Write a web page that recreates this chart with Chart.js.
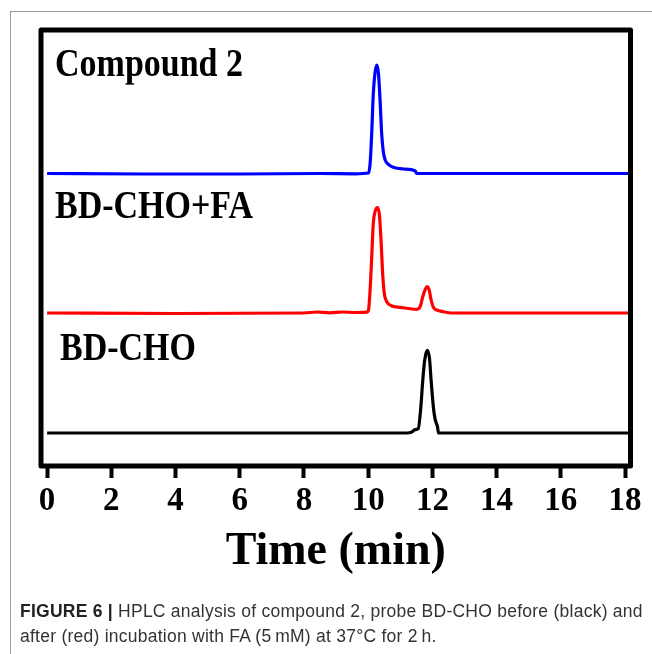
<!DOCTYPE html>
<html lang="en">
<head>
    <meta charset="UTF-8">
    <title>HPLC analysis - Figure 6</title>
    <script src="https://cdn.jsdelivr.net/npm/chart.js"></script>
    <style>
        body { margin: 0; background: #fff; }
        .page { position: relative; width: 652px; height: 654px; overflow: hidden; }
        .frame { position: absolute; left: 10px; top: 11px; width: 700px; height: 700px;
                 border-left: 1px solid #9a9a9a; border-top: 1px solid #9a9a9a; }
        #hplcChart { position: absolute; left: 0; top: 0; }
        .trace-label { position: absolute; font-family: 'Liberation Serif', 'Times New Roman', serif;
                       font-weight: bold; font-size: 34px; line-height: 34px; color: #000;
                       transform-origin: left top; transform: scaleY(1.18); white-space: nowrap; }
        .caption { position: absolute; left: 20px; top: 599px; width: 640px;
                   font-family: 'Liberation Sans', Arial, sans-serif; font-size: 17.5px;
                   letter-spacing: 0.25px; line-height: 25px; color: #333; white-space: nowrap; }
        .caption b { color: #222; }
    </style>
</head>
<body>
    <div class="page">
        <div class="frame"></div>
        <canvas id="hplcChart" width="652" height="654"></canvas>
        <div class="trace-label" style="left:55px; top:43px;">Compound 2</div>
        <div class="trace-label" style="left:55px; top:185px;">BD-CHO+FA</div>
        <div class="trace-label" style="left:60px; top:327px;">BD-CHO</div>
        <div class="caption"><b>FIGURE 6 |</b> HPLC analysis of compound 2, probe BD-CHO before (black) and<br>after (red) incubation with FA (5&#8201;mM) at 37&#176;C for 2&#8201;h.</div>
    </div>

    <script>
        // retention time (min) / detector signal (a.u.)
        const blueTime   = [0, 3, 6, 8.5, 9.6, 10.01, 10.06, 10.11, 10.16, 10.21, 10.27, 10.32, 10.37, 10.42, 10.47, 10.53, 10.63, 10.78, 11.1, 11.46, 11.51, 14, 18.2];
        const blueSignal = [0, -0.5, -0.5, 0, -0.3, 0.5, 10, 40, 80, 100, 108.5, 100, 73.5, 40, 22, 13.5, 9.2, 6.2, 4.5, 2.8, 0, 0, 0];

        const redTime   = [0, 4, 8, 8.4, 8.8, 9.2, 9.6, 9.95, 10.01, 10.06, 10.11, 10.16, 10.21, 10.29, 10.35, 10.40, 10.45, 10.50, 10.58, 10.74, 10.99, 11.51, 11.62, 11.70, 11.77, 11.83, 11.90, 11.96, 12.03, 12.14, 12.34, 12.6, 18.2];
        const redSignal = [0, -0.5, 0, 1, 0.2, 1, 0.5, 0.8, 3, 23, 56, 90, 101, 105.5, 98, 73, 40, 20, 11.3, 7, 5.7, 3.7, 6.3, 16.3, 23, 26.3, 23, 13, 5.7, 3, 1.3, 0, 0];

        const blackTime   = [0, 6, 11.2, 11.36, 11.46, 11.56, 11.64, 11.70, 11.76, 11.84, 11.91, 11.96, 12.03, 12.08, 12.16, 12.19, 18.2];
        const blackSignal = [0, 0, 0, 1, 3.4, 4.4, 26, 52.7, 72.7, 82.7, 74.4, 52.7, 26, 14.4, 6, 0, 0];

        // vertical stacking of the three chromatograms
        const blueOffset = 292.5;
        const redOffset = 153;
        const blackOffset = 33;

        const xTicks = [0, 2, 4, 6, 8, 10, 12, 14, 16, 18];

        function toPoints(times, signal, offset) {
            return times.map((t, i) => ({ x: t, y: signal[i] + offset }));
        }

        // heavy frame round the plot area
        const boxFrame = {
            id: 'boxFrame',
            afterDraw(chart) {
                const { ctx, chartArea: a } = chart;
                ctx.save();
                ctx.strokeStyle = '#000';
                ctx.lineWidth = 5;
                ctx.lineJoin = 'round';
                ctx.strokeRect(a.left, a.top, a.right - a.left, a.bottom - a.top);
                ctx.restore();
            }
        };

        const ctx = document.getElementById('hplcChart').getContext('2d');
        new Chart(ctx, {
            type: 'scatter',
            data: {
                datasets: [
                    { label: 'Compound 2', data: toPoints(blueTime, blueSignal, blueOffset), borderColor: '#0000ff' },
                    { label: 'BD-CHO+FA', data: toPoints(redTime, redSignal, redOffset), borderColor: '#ff0000' },
                    { label: 'BD-CHO', data: toPoints(blackTime, blackSignal, blackOffset), borderColor: '#000000' }
                ]
            },
            options: {
                responsive: false,
                animation: false,
                showLine: true,
                elements: {
                    point: { radius: 0 },
                    line: { borderWidth: 3.2, tension: 0.3, cubicInterpolationMode: 'monotone' }
                },
                layout: { padding: { left: 41, right: 21.5, top: 30, bottom: 0 } },
                plugins: { legend: { display: false }, tooltip: { enabled: false } },
                scales: {
                    x: {
                        type: 'linear',
                        min: -0.19,
                        max: 18.17,
                        afterFit(scale) { scale.height = 654 - 466; },
                        afterBuildTicks(scale) { scale.ticks = xTicks.map(v => ({ value: v })); },
                        border: { display: false },
                        grid: { drawOnChartArea: false, drawTicks: true, tickLength: 12, tickWidth: 4, tickColor: '#000' },
                        ticks: {
                            color: '#000',
                            padding: 4,
                            font: { family: "'Liberation Serif', 'Times New Roman', serif", weight: 'bold', size: 33 }
                        },
                        title: {
                            display: true,
                            text: 'Time (min)',
                            color: '#000',
                            padding: { top: 0, bottom: 74 },
                            font: { family: "'Liberation Serif', 'Times New Roman', serif", weight: 'bold', size: 46 }
                        }
                    },
                    y: {
                        display: false,
                        min: 0,
                        max: 436
                    }
                }
            },
            plugins: [boxFrame]
        });
    </script>
</body>
</html>
